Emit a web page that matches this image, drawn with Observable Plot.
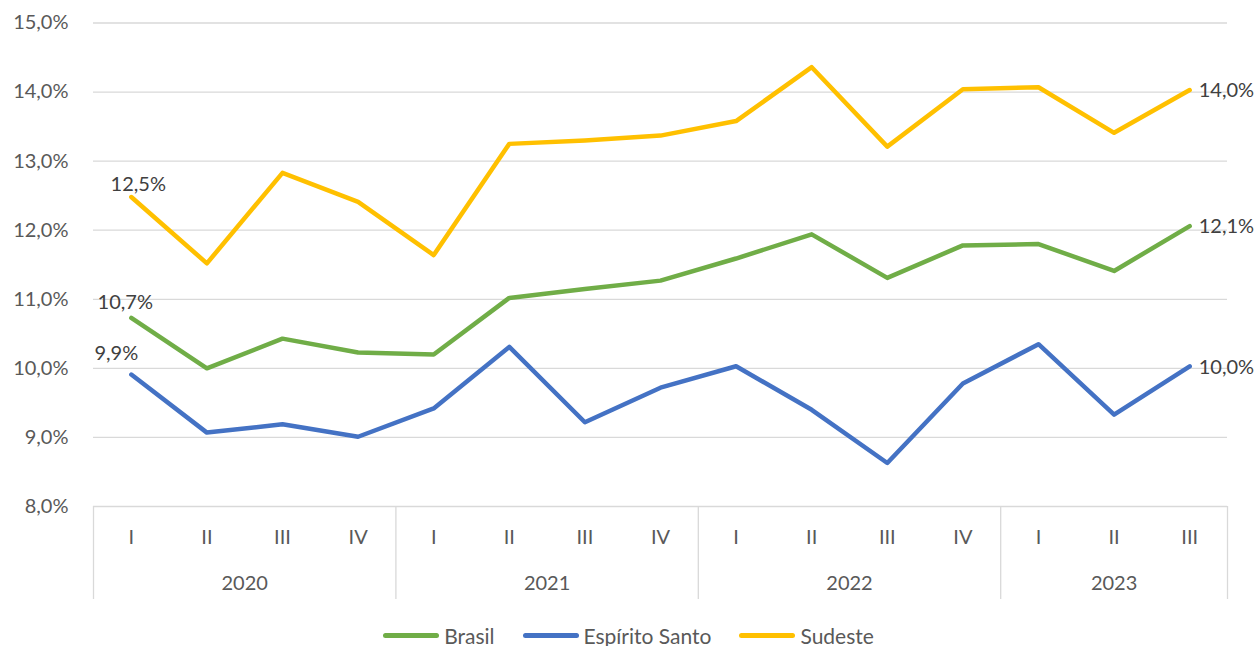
<!DOCTYPE html>
<html><head><meta charset="utf-8">
<script src="https://cdn.jsdelivr.net/npm/d3@7"></script>
<script src="https://cdn.jsdelivr.net/npm/@observablehq/plot@0.6"></script>
<style>
html,body{margin:0;padding:0;background:#fff;overflow:hidden;}
#legend{height:40px;display:flex;justify-content:center;align-items:center;font-family:Lato,"Open Sans",sans-serif;font-size:21px;color:#595959;}
#legend .item{display:flex;align-items:center;margin:0 14px;}
#legend .sw{display:inline-block;width:56px;height:5px;border-radius:3px;margin-right:5px;}
</style></head><body><div id="chart"></div><div id="legend"></div><script>
const quarters = ["I","II","III","IV","I","II","III","IV","I","II","III","IV","I","II","III"];
const quarterYears = ["2020","2020","2020","2020","2021","2021","2021","2021","2022","2022","2022","2022","2023","2023","2023"];
const brasil = [10.73,10.00,10.43,10.23,10.20,11.02,11.15,11.27,11.59,11.94,11.31,11.78,11.80,11.41,12.06];
const espiritoSanto = [9.91,9.07,9.19,9.01,9.42,10.31,9.22,9.72,10.03,9.40,8.63,9.78,10.35,9.33,10.03];
const sudeste = [12.48,11.52,12.83,12.41,11.64,13.25,13.30,13.37,13.58,14.36,13.21,14.04,14.07,13.41,14.03];
const seriesNames = ["Brasil","Espírito Santo","Sudeste"];
const seriesColors = ["#70AD47","#4472C4","#FFC000"];
const yTicks = [8,9,10,11,12,13,14,15];

const seriesValues = [brasil, espiritoSanto, sudeste];
const data = seriesNames.flatMap((s, k) => seriesValues[k].map((v, i) => ({series: s, i, v})));
const idx = quarters.map((_, i) => i);
const yearGroups = d3.groups(idx, i => quarterYears[i]);
const yearCenters = yearGroups.map(([y, is]) => d3.mean(is));
const yearLabels = yearGroups.map(([y]) => y);
const dividers = [-0.5, ...yearGroups.slice(1).map(([y, is]) => is[0] - 0.5), quarters.length - 0.5];
const fmt = v => v.toFixed(1).replace(".", ",") + "%";
const last = quarters.length - 1;
const firstPts = data.filter(d => d.i === 0);
const lastPts = data.filter(d => d.i === last);

const plot = Plot.plot({
  width: 1257,
  height: 615,
  marginLeft: 93,
  marginRight: 30,
  marginTop: 22.5,
  marginBottom: 109,
  style: {fontFamily: "Lato, 'Open Sans', sans-serif", background: "#fff"},
  x: {type: "linear", domain: [-0.5, quarters.length - 0.5], label: null},
  y: {domain: [8, 15], label: null},
  color: {domain: seriesNames, range: seriesColors},
  marks: [
    Plot.gridY(yTicks, {stroke: "#D9D9D9", strokeOpacity: 1, strokeWidth: 1.3}),
    Plot.axisY({ticks: yTicks, tickSize: 0, tickPadding: 25, tickFormat: fmt, fontSize: 20, fill: "#595959", label: null}),
    Plot.axisX({ticks: dividers, tickSize: 93, tickFormat: () => "", stroke: "#D9D9D9", strokeWidth: 1.3, label: null}),
    Plot.axisX({ticks: idx, tickSize: 0, tickPadding: 23, tickFormat: i => quarters[i], fontSize: 20, fill: "#595959", label: null}),
    Plot.axisX({ticks: yearCenters, tickSize: 0, tickPadding: 69, tickFormat: (c) => yearLabels[yearCenters.indexOf(c)], fontSize: 20, fill: "#595959", label: null}),
    Plot.line(data, {x: "i", y: "v", z: "series", stroke: "series", strokeWidth: 4.5, strokeLinejoin: "round", strokeLinecap: "round"}),
    Plot.text(firstPts.filter(d => d.series === "Sudeste"), {x: "i", y: "v", text: d => fmt(d.v), dx: 7, dy: -12, fontSize: 20, fill: "#404040"}),
    Plot.text(firstPts.filter(d => d.series === "Brasil"), {x: "i", y: "v", text: d => fmt(d.v), dx: -6, dy: -15, fontSize: 20, fill: "#404040"}),
    Plot.text(firstPts.filter(d => d.series === "Espírito Santo"), {x: "i", y: "v", text: d => fmt(d.v), dx: -15, dy: -21, fontSize: 20, fill: "#404040"}),
    Plot.text(lastPts, {x: "i", y: "v", text: d => fmt(d.v), dx: 9, dy: 1, textAnchor: "start", fontSize: 20, fill: "#404040"})
  ]
});
document.getElementById("chart").appendChild(plot);

const legend = d3.select("#legend");
seriesNames.forEach((s, k) => {
  const item = legend.append("div").attr("class", "item");
  item.append("span").attr("class", "sw").style("background", seriesColors[k]);
  item.append("span").text(s);
});
</script></body></html>
